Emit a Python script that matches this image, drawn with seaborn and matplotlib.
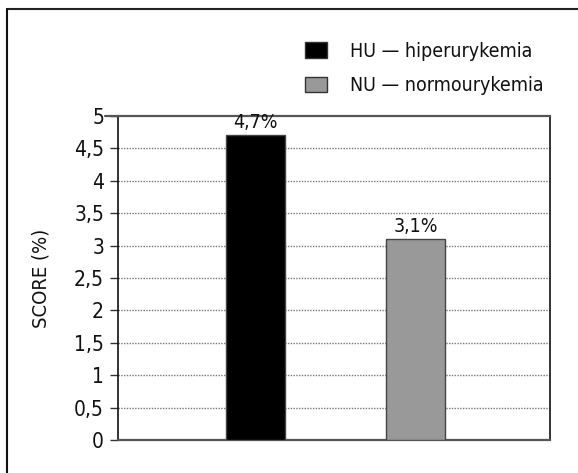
import matplotlib
matplotlib.use("Agg")
import matplotlib.pyplot as plt
from matplotlib.patches import Patch
from matplotlib.lines import Line2D
from matplotlib.ticker import FuncFormatter, MultipleLocator
import seaborn as sns
import pandas as pd

# Mean SCORE risk by uric acid status
groups = ["HU", "NU"]
scores = [4.7, 3.1]
value_labels = ["4,7%", "3,1%"]
legend_labels = ["HU — hiperurykemia", "NU — normourykemia"]
bar_colors = ["#000000", "#999999"]

sns.set_theme(style="white")
plt.rcParams["font.family"] = ["DejaVu Sans"]
plt.rcParams["font.stretch"] = "condensed"

df = pd.DataFrame({"group": groups, "score": scores})

fig = plt.figure(figsize=(5.78, 4.73), dpi=100)
ax = fig.add_axes([118 / 578, 1 - 440 / 473, (550 - 118) / 578, (440 - 116) / 473])

sns.barplot(data=df, x="group", y="score", hue="group", palette=bar_colors,
            legend=False, width=0.37, ax=ax, edgecolor="#444444", linewidth=1.0,
            zorder=3)

ax.set_xlim(-0.857, 1.838)
ax.set_ylim(0, 5)
ax.yaxis.set_major_locator(MultipleLocator(0.5))
ax.yaxis.set_major_formatter(FuncFormatter(lambda v, p: f"{v:g}".replace(".", ",")))
ax.set_xticks([])
ax.set_xlabel("")
ax.set_ylabel("SCORE (%)", fontsize=14.5, labelpad=17, color="#111111")

ax.tick_params(axis="y", which="major", length=6, width=1, color="#333333",
               labelsize=15, pad=4, left=True, labelcolor="#111111")
ax.tick_params(axis="x", length=0)

# dotted horizontal guides
for v in [0.5, 1, 1.5, 2, 2.5, 3, 3.5, 4, 4.5]:
    ax.axhline(v, color="#777777", linestyle=(0, (1, 1)), linewidth=1.0, zorder=1)

for side in ["left", "right"]:
    ax.spines[side].set_color("#111111")
    ax.spines[side].set_linewidth(1.2)
for side in ["top", "bottom"]:
    ax.spines[side].set_color("#555555")
    ax.spines[side].set_linewidth(1.6)

# top line of the frame extends over the tick area
ax.plot([-0.03, 0], [5, 5], transform=ax.get_yaxis_transform(), color="#555555",
        linewidth=1.6, clip_on=False)

for i, (s, lab) in enumerate(zip(scores, value_labels)):
    ax.text(i, s + 0.05, lab, ha="center", va="bottom", fontsize=14, color="#111111",
            zorder=4)

handles = [Patch(facecolor=c, edgecolor="#333333", linewidth=1.0) for c in bar_colors]
fig.legend(handles, legend_labels, loc="upper left", bbox_to_anchor=(297 / 578, 1 - 34 / 473),
           frameon=False, fontsize=14, handlelength=1.15, handleheight=0.85,
           handletextpad=1.15, labelspacing=0.8, borderaxespad=0,
           labelcolor="#111111")

# outer frame (top and left edges)
fig.add_artist(Line2D([7 / 578, 1.0], [1 - 9 / 473, 1 - 9 / 473], transform=fig.transFigure,
                      color="#222222", linewidth=1.5))
fig.add_artist(Line2D([7 / 578, 7 / 578], [0.0, 1 - 9 / 473], transform=fig.transFigure,
                      color="#111111", linewidth=1.5))

fig.savefig("out.png", dpi=100, facecolor="white")
